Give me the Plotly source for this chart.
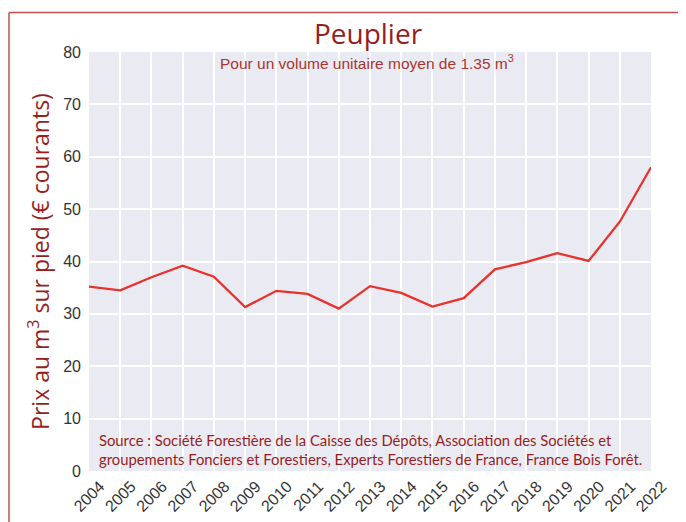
import plotly.graph_objects as go

years = [str(y) for y in range(2004, 2023)]
prix = [35.2, 34.5, 37.0, 39.2, 37.1, 31.3, 34.4, 33.8, 31.0, 35.3, 34.0, 31.4, 33.0, 38.5, 39.9, 41.6, 40.1, 47.6, 58.0]
y_ticks = [0, 10, 20, 30, 40, 50, 60, 70, 80]

DARK_RED = "#961e1e"
OFF = 8  # default page body margin
W, H = 686 - OFF, 522 - OFF
L, R, T, B = 89 - OFF, 651 - OFF, 52 - OFF, 471 - OFF

fig = go.Figure()
fig.add_trace(go.Scatter(
    x=list(range(2004, 2023)), y=prix, mode="lines",
    line=dict(color="#e8322b", width=2.3),
    hoverinfo="x+y", showlegend=False,
))

def px_x(px):
    return (px - OFF - L) / (R - L)

def px_y(py):
    return (B - (py - OFF)) / (B - T)

fig.update_layout(
    width=W, height=H,
    margin=dict(l=L, r=W - R, t=T, b=H - B, pad=0, autoexpand=False),
    paper_bgcolor="white",
    plot_bgcolor="#eaeaf2",
    title=dict(text="Peuplier", xref="container", x=(368 - OFF) / W, xanchor="center",
               yref="container", y=1 - (34 - OFF) / H, yanchor="middle",
               font=dict(family="Open Sans", size=28, color=DARK_RED)),
    xaxis=dict(
        range=[2004, 2022], tickmode="array", tickvals=list(range(2004, 2023)), ticktext=years,
        tickangle=-45, showgrid=True, gridcolor="white", gridwidth=1.5, zeroline=False,
        showline=False, ticks="", automargin=False, ticklabelshift=11, ticklabelstandoff=2,
        tickfont=dict(family="Liberation Sans", size=16, color="#333333"),
    ),
    yaxis=dict(
        range=[0, 80], tickmode="array", tickvals=y_ticks, ticktext=[str(v) for v in y_ticks],
        showgrid=True, gridcolor="white", gridwidth=1.5, zeroline=False, showline=False, ticks="",
        automargin=False, ticklabelstandoff=7,
        tickfont=dict(family="Liberation Sans", size=16, color="#333333"),
        title=dict(text="Prix au m<sup>3</sup> sur pied (€ courants)", standoff=7,
                   font=dict(family="Open Sans", size=23, color=DARK_RED)),
    ),
    annotations=[
        dict(text="Pour un volume unitaire moyen de 1.35 m<sup>3</sup>", xref="paper", yref="paper",
             x=px_x(367), y=px_y(62), xanchor="center", yanchor="middle", showarrow=False,
             font=dict(family="Liberation Sans", size=15.5, color="#a8352e")),
        dict(text="Source : Société Forestière de la Caisse des Dépôts, Association des Sociétés et<br>"
                  "groupements Fonciers et Forestiers, Experts Forestiers de France, France Bois Forêt.",
             xref="paper", yref="paper", x=px_x(97), y=px_y(449), xanchor="left", yanchor="middle",
             align="left", showarrow=False,
             font=dict(family="Lato", size=14.8, color=DARK_RED)),
    ],
    shapes=[
        dict(type="line", xref="paper", yref="paper", x0=px_x(9), x1=px_x(700), y0=px_y(12.5), y1=px_y(12.5),
             line=dict(color="#c0504d", width=1.5)),
        dict(type="line", xref="paper", yref="paper", x0=px_x(9), x1=px_x(9), y0=px_y(12.5), y1=px_y(540),
             line=dict(color="#c0504d", width=1.5)),
    ],
)

fig.write_html("out.html")
